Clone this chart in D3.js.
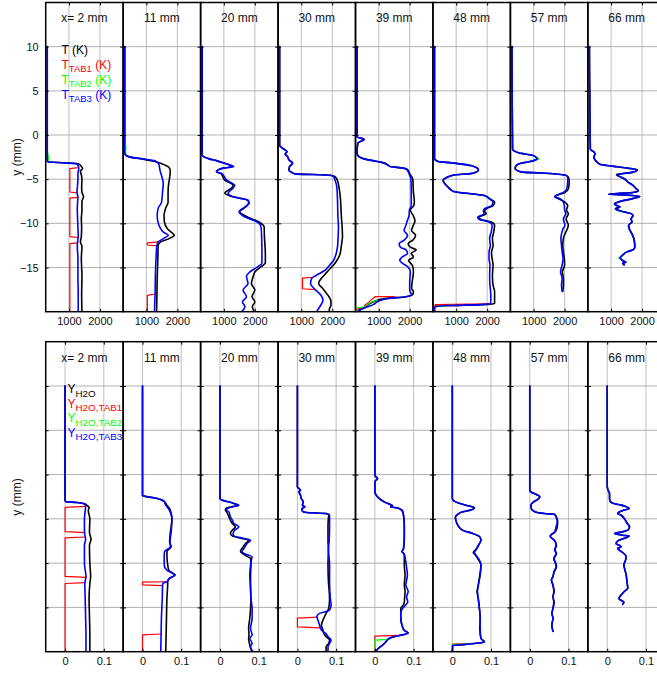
<!DOCTYPE html>
<html><head><meta charset="utf-8">
<script src="https://cdn.jsdelivr.net/npm/d3@7"></script>
<style>body{margin:0;background:#fff} text{font-family:"Liberation Sans",Arial,Helvetica,sans-serif}</style>
</head><body><script>
// ---------------- DATA ----------------
const panelTitles = ["x= 2 mm","11 mm","20 mm","30 mm","39 mm","48 mm","57 mm","66 mm"];
const yTickValues = [-15,-10,-5,0,5,10];
const yDomain = [-20,15];
const tDomain = [250,2750];
const tTicks = [1000,2000];
const hDomain = [-0.05,0.15];
const hTicks = [0,0.1];

// Temperature profiles: rows [y (mm), T (K), T_TAB3 (K)]
const T_02 = [[10,300,300],[-2.9,300,300],[-3.05,330,330],[-3.15,900,850],[-3.25,1300,1250],[-3.5,1390,1300],[-3.8,1440,1320],[-4.1,1370,1300],[-4.5,1400,1290],[-5,1420,1290],[-6,1410,1270],[-6.5,1420,1260],[-7,1470,1290],[-7.5,1420,1280],[-8.5,1420,1270],[-9.5,1400,1280],[-10.5,1410,1290],[-11.5,1400,1300],[-12.1,1370,1280],[-12.6,1420,1270],[-14,1400,1290],[-16,1420,1290],[-18,1410,1300],[-20,1420,1300]];
const T_11 = [[10,300,300],[-2.0,300,300],[-2.3,340,340],[-2.5,480,480],[-2.7,850,880],[-2.9,1150,1260],[-3.1,1380,1350],[-3.4,1600,1410],[-3.6,1710,1420],[-4.0,1770,1440],[-5,1745,1520],[-5.5,1720,1545],[-6.5,1700,1520],[-7.6,1700,1490],[-8.3,1620,1380],[-9.1,1570,1350],[-9.8,1580,1370],[-10.6,1680,1460],[-11.0,1800,1550],[-11.35,1900,1710],[-11.7,1750,1560],[-12.1,1460,1380],[-12.5,1380,1340],[-14,1370,1310],[-16,1350,1290],[-18,1340,1280],[-20,1330,1260]];
const T_20 = [[10,300,300],[-2.3,300,300],[-2.5,370,370],[-2.7,530,530],[-2.9,760,760],[-3.15,980,980],[-3.35,1150,1150],[-3.55,1310,1320],[-3.75,980,980],[-3.95,810,820],[-4.15,760,763],[-4.35,900,930],[-5.1,1030,1090],[-5.7,1300,1350],[-6.0,1250,1300],[-6.6,1030,1140],[-7.0,1300,1300],[-7.4,1780,1790],[-7.7,1800,1820],[-8.1,1720,1700],[-8.7,1510,1490],[-9.2,1720,1640],[-9.9,2160,2100],[-10.4,2300,2200],[-11.5,2310,2220],[-13.4,2340,2230],[-14.5,2340,2230],[-14.9,2200,2100],[-15.5,2000,1840],[-16.0,1950,1730],[-16.8,1890,1780],[-17.55,2000,1620],[-18.3,1910,1730],[-18.9,2000,1600],[-19.4,1920,1680],[-20,1980,1570]];
const T_30 = [[10,300,300],[-1.2,300,300],[-1.5,400,400],[-1.9,540,540],[-2.15,480,480],[-2.45,560,560],[-2.8,600,600],[-3.2,720,720],[-3.6,620,620],[-4.0,600,600],[-4.2,680,680],[-4.4,800,800],[-4.55,1950,1900],[-4.7,2080,2040],[-5.0,2150,2080],[-6,2220,2150],[-7.5,2270,2170],[-9,2290,2180],[-10.5,2320,2200],[-11.5,2330,2190],[-12.6,2290,2170],[-13.5,2250,2120],[-14.2,2150,2040],[-14.8,2020,1900],[-15.3,1880,1770],[-15.9,1730,1480],[-16.2,1650,1340],[-16.8,1560,1300],[-17.4,1700,1420],[-18.1,1850,1630],[-18.7,1950,1700],[-19.2,1960,1640],[-19.8,1900,1530],[-20,1920,1500]];
const T_39 = [[10,300,300],[-0.2,300,300],[-0.5,530,530],[-0.9,330,330],[-1.3,310,310],[-2.1,300,300],[-2.45,360,360],[-2.7,520,520],[-2.9,800,800],[-3.1,1100,1100],[-3.4,1300,1300],[-3.55,1350,1350],[-3.75,1800,1780],[-3.9,1930,1900],[-4.4,2000,1980],[-5,2100,2040],[-6.5,2120,2050],[-7.5,2150,2050],[-8.0,2130,2050],[-8.5,2020,1990],[-9.1,2110,1980],[-9.7,2170,1920],[-10.2,2120,1880],[-10.8,2060,1820],[-11.35,2190,1930],[-11.9,2100,1820],[-12.3,1950,1660],[-12.7,2020,1700],[-13.0,2210,1880],[-13.4,2050,1930],[-13.8,2120,1760],[-14.2,1960,1680],[-14.5,2030,1760],[-14.9,2100,1930],[-15.5,2120,2020],[-16.6,2080,2000],[-17.4,2060,2000],[-17.7,2120,2010],[-18.05,2100,2060],[-18.3,1880,1880],[-18.5,1210,1320],[-18.8,880,1000],[-19.2,660,820],[-19.5,540,600],[-19.75,380,430],[-20,320,330]];
const T_48 = [[10,300,300],[-2.7,300,300],[-3.0,420,420],[-3.15,860,860],[-3.3,1190,1190],[-3.45,1470,1470],[-3.65,1630,1630],[-3.95,1720,1720],[-4.2,1640,1640],[-4.4,1410,1410],[-4.5,970,970],[-4.8,690,690],[-5.15,580,580],[-5.5,630,630],[-5.9,740,740],[-6.2,830,830],[-6.4,920,920],[-6.55,1190,1190],[-6.7,1630,1630],[-6.85,1910,1900],[-7.2,2080,2060],[-7.6,2240,2190],[-8.0,2190,2140],[-8.35,1970,1910],[-8.6,1910,1880],[-8.9,1970,1900],[-9.3,1740,1690],[-9.55,1800,1740],[-9.85,2130,2060],[-10.2,2240,2160],[-11,2210,2130],[-11.7,2170,2080],[-12.5,2190,2100],[-13.3,2140,2060],[-14,2160,2060],[-14.7,2190,2090],[-16,2170,2080],[-17,2190,2090],[-17.7,2240,2110],[-18.5,2240,2120],[-19.06,2240,2110],[-19.2,1860,1800],[-19.3,750,700],[-19.45,300,300],[-20,300,300]];
const T_57 = [[10,300,300],[-1.6,320,320],[-1.8,370,370],[-2.0,510,510],[-2.15,730,730],[-2.3,960,960],[-2.5,1070,1070],[-2.7,1120,1120],[-2.9,1000,1000],[-3.1,730,730],[-3.3,500,500],[-3.5,430,430],[-3.8,400,400],[-4.0,460,460],[-4.2,630,630],[-4.3,1230,1230],[-4.45,1790,1790],[-4.6,2070,2050],[-4.8,2120,2100],[-5.3,2150,2100],[-6.1,2120,2070],[-6.5,2010,1960],[-6.65,1900,1850],[-6.85,1730,1730],[-7.0,1680,1680],[-7.2,1790,1850],[-7.6,2010,1960],[-8.0,2100,1990],[-8.5,2060,2000],[-8.9,2120,2040],[-9.5,2050,1960],[-10.2,2120,2010],[-10.7,2080,1940],[-11.2,2010,1900],[-11.7,1960,1880],[-12.5,1940,1900],[-13.2,1960,1920],[-14,1990,1950],[-14.7,2000,1920],[-15.5,1930,1870],[-16.2,1960,1920],[-17,1960,1900],[-17.7,1940,1920]];
const T_66 = [[10,300,300],[-1.6,330,330],[-1.9,440,440],[-2.15,480,480],[-2.5,440,440],[-2.9,500,500],[-3.3,640,640],[-3.45,870,870],[-3.6,1200,1200],[-3.75,1530,1530],[-3.95,1850,1840],[-4.2,1710,1700],[-4.4,1310,1310],[-4.5,1170,1200],[-4.65,1250,1250],[-4.95,1430,1420],[-5.3,1540,1530],[-5.7,1710,1700],[-6.1,1820,1810],[-6.3,1880,1870],[-6.5,1700,1700],[-6.62,1200,1200],[-6.7,920,920],[-6.8,1500,1500],[-6.95,1930,1920],[-7.2,1700,1700],[-7.5,1310,1310],[-7.8,1110,1110],[-8.0,1200,1200],[-8.15,1290,1290],[-8.35,1140,1140],[-8.55,1250,1250],[-8.7,1420,1420],[-8.9,1650,1640],[-9.1,1710,1700],[-9.5,1650,1640],[-9.85,1680,1670],[-10.2,1570,1560],[-10.7,1600,1590],[-11.2,1680,1670],[-11.9,1750,1740],[-12.7,1770,1760],[-13.0,1700,1700],[-13.2,1530,1530],[-13.6,1370,1370],[-13.9,1290,1290],[-14.2,1370,1370],[-14.4,1480,1480],[-14.5,1370,1370],[-14.7,1420,1420]];

// T_TAB1 and T_TAB2 where they depart from T_TAB3: polylines of [y, T]
const T1_02 = [[[-3.7,1310],[-3.8,1030],[-6.45,1030],[-6.55,1270]],[[-7.05,1290],[-7.15,1030],[-11.5,1030],[-11.6,1300]],[[-12.2,1280],[-12.3,1030],[-20,1030]]];
const T1_11 = [[[-12.1,1380],[-12.2,1030],[-12.45,1030],[-12.55,1340]],[[-18.0,1280],[-18.15,1030],[-20,1030]]];
const T1_20 = [];
const T1_30 = [[[-16.1,1380],[-16.2,1040],[-17.4,1040],[-17.5,1430]]];
const T1_39 = [[[-18.3,1500],[-18.3,880],[-18.6,780],[-19.0,650],[-19.3,540]],[[-19.6,450],[-19.7,290],[-19.9,330]]];
const T1_48 = [[[-19.1,2100],[-19.2,320],[-19.28,1200],[-19.35,300],[-19.5,300]]];
const T1_57 = [];
const T1_66 = [];
const T2_02 = [[[-1.8,300],[-2.5,340],[-3.0,330]]];
const T2_11 = [[[-0.8,300],[-1.3,340],[-2.0,330],[-2.3,345]]];
const T2_20 = [];
const T2_30 = [];
const T2_39 = [[[-18.7,950],[-18.9,760],[-19.2,640],[-19.45,560],[-19.55,300],[-19.8,330]]];
const T2_48 = [[[-19.25,900],[-19.4,350]]];
const T2_57 = [[[-2.55,1090],[-2.7,1180],[-2.85,1050]]];
const T2_66 = [[[-8.4,1150],[-8.55,1210],[-8.7,1400]],[[-13.8,1310],[-13.95,1240],[-14.1,1330]]];

// Water mass fraction profiles: rows [y (mm), Y_H2O, Y_H2O,TAB3]
const Y_02 = [[10,0,0],[-2.9,0,0],[-3.05,0.002,0.002],[-3.15,0.03,0.03],[-3.3,0.05,0.049],[-3.5,0.057,0.053],[-3.7,0.062,0.053],[-4.1,0.06,0.052],[-5,0.064,0.050],[-6.5,0.063,0.050],[-7.3,0.067,0.053],[-8,0.063,0.050],[-10,0.064,0.050],[-11.5,0.066,0.054],[-12.3,0.064,0.051],[-14,0.062,0.052],[-16,0.063,0.053],[-18,0.064,0.054],[-20,0.064,0.054]];
const Y_11 = [[10,0,0],[-2.4,0,0],[-2.5,0.012,0.012],[-2.7,0.038,0.038],[-3.0,0.055,0.055],[-3.45,0.063,0.060],[-3.85,0.070,0.067],[-4.4,0.074,0.073],[-5,0.076,0.076],[-6.5,0.072,0.074],[-7.6,0.070,0.071],[-8.15,0.074,0.072],[-8.7,0.063,0.057],[-9.1,0.063,0.056],[-10.2,0.065,0.056],[-10.8,0.068,0.063],[-11.2,0.080,0.080],[-11.35,0.084,0.084],[-11.7,0.070,0.070],[-12.1,0.065,0.063],[-12.3,0.065,0.052],[-14,0.063,0.051],[-16,0.062,0.049],[-18,0.061,0.048],[-20,0.060,0.047]];
const Y_20 = [[10,0,0],[-2.7,0,0],[-2.9,0.006,0.006],[-3.08,0.023,0.023],[-3.27,0.036,0.036],[-3.46,0.047,0.049],[-3.65,0.030,0.032],[-3.83,0.015,0.019],[-4.02,0.014,0.017],[-4.21,0.017,0.023],[-4.77,0.023,0.027],[-5.15,0.027,0.032],[-5.53,0.032,0.036],[-5.9,0.040,0.049],[-6.28,0.032,0.038],[-6.65,0.027,0.034],[-6.92,0.032,0.036],[-7.22,0.057,0.062],[-7.41,0.074,0.079],[-7.78,0.066,0.070],[-8.35,0.057,0.062],[-8.65,0.053,0.057],[-8.91,0.058,0.062],[-9.29,0.072,0.083],[-9.47,0.079,0.082],[-10.23,0.080,0.079],[-11.35,0.079,0.077],[-12.86,0.079,0.079],[-13.98,0.080,0.080],[-15.11,0.079,0.083],[-16.24,0.077,0.083],[-17.37,0.074,0.079],[-18.12,0.075,0.083],[-18.5,0.074,0.077],[-19.06,0.076,0.083],[-19.44,0.078,0.079],[-20,0.083,0.085]];
const Y_30 = [[10,0,0],[-1.4,0,0],[-1.58,0.004,0.004],[-1.77,0.008,0.008],[-1.95,0.004,0.004],[-2.33,0.008,0.008],[-2.7,0.010,0.010],[-3.08,0.015,0.015],[-3.46,0.013,0.013],[-3.65,0.019,0.019],[-3.83,0.012,0.012],[-4.14,0.013,0.013],[-4.29,0.023,0.023],[-4.4,0.074,0.074],[-4.59,0.081,0.083],[-4.96,0.080,0.083],[-5.71,0.079,0.083],[-7.5,0.079,0.082],[-8.35,0.080,0.080],[-10.2,0.079,0.083],[-12,0.080,0.083],[-13.98,0.083,0.085],[-14.74,0.082,0.087],[-15.3,0.079,0.083],[-15.68,0.074,0.057],[-16.05,0.070,0.050],[-16.43,0.066,0.053],[-16.99,0.062,0.057],[-17.56,0.066,0.062],[-17.93,0.068,0.073],[-18.3,0.074,0.079],[-18.68,0.083,0.087],[-19.06,0.081,0.083],[-19.44,0.074,0.079],[-20,0.074,0.079]];
const Y_39 = [[10,0,0],[-0.1,0,0],[-0.45,0.007,0.007],[-0.8,0,0],[-2.0,0,0],[-2.3,0.003,0.003],[-2.7,0.011,0.011],[-3.08,0.024,0.024],[-3.4,0.041,0.041],[-3.5,0.045,0.046],[-3.65,0.041,0.041],[-3.76,0.058,0.058],[-3.9,0.065,0.065],[-4.0,0.070,0.070],[-4.6,0.074,0.074],[-5.7,0.076,0.076],[-7.2,0.076,0.076],[-8.35,0.074,0.074],[-8.7,0.070,0.070],[-9.0,0.076,0.076],[-10.2,0.076,0.081],[-11.35,0.078,0.084],[-12.5,0.076,0.080],[-13.2,0.078,0.086],[-13.8,0.077,0.082],[-14.4,0.076,0.085],[-14.7,0.074,0.080],[-15.1,0.067,0.072],[-15.5,0.067,0.067],[-16.2,0.067,0.067],[-17,0.070,0.070],[-17.6,0.076,0.076],[-17.9,0.086,0.086],[-18.1,0.071,0.071],[-18.3,0.050,0.050],[-18.5,0.037,0.037],[-18.9,0.028,0.028],[-19.25,0.020,0.020],[-19.55,0.011,0.011],[-19.8,0.005,0.005],[-20,0.003,0.003]];
const Y_48 = [[10,0,0],[-2.7,0,0],[-3.0,0.005,0.005],[-3.3,0.022,0.022],[-3.55,0.044,0.044],[-3.75,0.057,0.057],[-4.0,0.048,0.048],[-4.2,0.027,0.027],[-4.5,0.014,0.014],[-4.8,0.008,0.008],[-5.15,0.009,0.009],[-5.7,0.014,0.014],[-6.3,0.027,0.027],[-6.65,0.053,0.053],[-7.0,0.070,0.070],[-7.4,0.074,0.074],[-7.8,0.070,0.070],[-8.15,0.065,0.066],[-8.5,0.060,0.061],[-8.8,0.054,0.057],[-9.1,0.060,0.061],[-9.65,0.068,0.070],[-10.2,0.074,0.074],[-11.35,0.071,0.072],[-12.5,0.067,0.067],[-13.2,0.064,0.065],[-14,0.067,0.067],[-15.1,0.070,0.070],[-16.2,0.072,0.072],[-17.4,0.071,0.072],[-18.5,0.074,0.074],[-18.9,0.083,0.083],[-19.05,0.062,0.062],[-19.2,0.027,0.027],[-19.3,0.001,0.001],[-20,0,0]];
const Y_57 = [[10,0,0],[-1.75,0,0],[-2.0,0.004,0.004],[-2.25,0.017,0.017],[-2.5,0.026,0.026],[-2.8,0.021,0.021],[-3.1,0.009,0.009],[-3.45,0.003,0.003],[-3.85,0.004,0.004],[-4.2,0.013,0.013],[-4.4,0.038,0.038],[-4.5,0.064,0.064],[-4.8,0.069,0.068],[-5.3,0.072,0.071],[-5.9,0.071,0.068],[-6.5,0.065,0.064],[-6.85,0.054,0.054],[-7.0,0.053,0.053],[-7.4,0.063,0.063],[-8.0,0.069,0.068],[-8.5,0.065,0.064],[-8.9,0.069,0.068],[-9.5,0.063,0.062],[-10.0,0.067,0.066],[-10.4,0.069,0.068],[-11,0.063,0.062],[-11.5,0.060,0.060],[-11.9,0.056,0.056],[-12.5,0.060,0.060],[-13.2,0.063,0.062],[-13.8,0.060,0.060],[-14.4,0.063,0.062],[-15.1,0.060,0.060],[-15.7,0.057,0.057],[-16.2,0.060,0.060],[-17,0.057,0.057],[-17.7,0.060,0.060]];
const Y_66 = [[10,0,0],[-1.2,0,0],[-1.75,0.002,0.002],[-2.15,0.006,0.006],[-2.7,0.006,0.006],[-3.1,0.009,0.009],[-3.3,0.019,0.019],[-3.45,0.036,0.036],[-3.65,0.050,0.050],[-3.85,0.057,0.057],[-4.0,0.044,0.044],[-4.2,0.032,0.032],[-4.4,0.027,0.027],[-4.6,0.036,0.036],[-4.95,0.044,0.044],[-5.5,0.052,0.051],[-5.9,0.058,0.057],[-6.2,0.055,0.055],[-6.5,0.036,0.036],[-6.65,0.019,0.019],[-6.85,0.040,0.040],[-6.95,0.057,0.057],[-7.2,0.044,0.044],[-7.5,0.027,0.027],[-7.8,0.023,0.023],[-8.0,0.032,0.032],[-8.15,0.036,0.036],[-8.35,0.027,0.027],[-8.55,0.032,0.032],[-8.8,0.040,0.040],[-9.3,0.049,0.049],[-9.85,0.046,0.046],[-10.2,0.043,0.043],[-10.8,0.046,0.046],[-11.35,0.049,0.049],[-12.1,0.051,0.051],[-12.85,0.053,0.053],[-13.2,0.044,0.044],[-13.6,0.036,0.036],[-14.0,0.030,0.030],[-14.2,0.036,0.036],[-14.4,0.043,0.043],[-14.65,0.040,0.040]];

const Y1_02 = [[[-3.6,0.053],[-3.7,0],[-6.45,0],[-6.55,0.052]],[[-7.05,0.053],[-7.15,0],[-11.5,0],[-11.6,0.054]],[[-12.2,0.052],[-12.3,0],[-20,0]]];
const Y1_11 = [[[-12.1,0.06],[-12.15,0],[-12.45,0],[-12.55,0.052]],[[-18.0,0.049],[-18.1,0],[-20,0]]];
const Y1_20 = [];
const Y1_30 = [[[-16.1,0.052],[-16.2,0],[-17.2,0],[-17.3,0.058]]];
const Y1_39 = [[[-18.15,0.06],[-18.25,0],[-20,0]]];
const Y1_48 = [[[-19.05,0.062],[-19.15,0],[-19.3,0]]];
const Y1_57 = [];
const Y1_66 = [];
const Y2_02 = [];
const Y2_11 = [];
const Y2_20 = [];
const Y2_30 = [];
const Y2_39 = [[[-18.6,0.036],[-18.7,0],[-19.7,0],[-19.8,0.005]]];
const Y2_48 = [[[-19.1,0.05],[-19.2,0]]];
const Y2_57 = [];
const Y2_66 = [[[-13.9,0.031],[-14.0,0.028],[-14.1,0.033]]];

const T_all = [T_02,T_11,T_20,T_30,T_39,T_48,T_57,T_66];
const T1_all = [T1_02,T1_11,T1_20,T1_30,T1_39,T1_48,T1_57,T1_66];
const T2_all = [T2_02,T2_11,T2_20,T2_30,T2_39,T2_48,T2_57,T2_66];
const Y_all = [Y_02,Y_11,Y_20,Y_30,Y_39,Y_48,Y_57,Y_66];
const Y1_all = [Y1_02,Y1_11,Y1_20,Y1_30,Y1_39,Y1_48,Y1_57,Y1_66];
const Y2_all = [Y2_02,Y2_11,Y2_20,Y2_30,Y2_39,Y2_48,Y2_57,Y2_66];

const legendT = [["T","","(K)"],["T","TAB1","(K)"],["T","TAB2","(K)"],["T","TAB3","(K)"]];
const legendY = [["Y","H2O",""],["Y","H2O,TAB1",""],["Y","H2O,TAB2",""],["Y","H2O,TAB3",""]];

// ---------------- STYLE / LAYOUT ----------------
const COLORS = ["#000000","#ff0000","#00ff00","#0000ff"];
const W = 657, H = 673, L0 = 45.7, PW = 77.45;
const svg = d3.select("body").append("svg").attr("width",W).attr("height",H).style("display","block");
svg.append("rect").attr("width",W).attr("height",H).attr("fill","#fff");
const defs = svg.append("defs");

const rowsCfg = [
  {top:2.5, bottom:311.7, dom:tDomain, ticks:tTicks, main:T_all, tab1:T1_all, tab2:T2_all,
   fmt:d3.format("d"), titleY:21.5, labelCY:157, legend:legendT, legX:61.5, legY:[54,69,84,99], subSize:9.5, subDy:3, tailSpace:true},
  {top:341.7, bottom:651.7, dom:hDomain, ticks:hTicks, main:Y_all, tab1:Y1_all, tab2:Y2_all,
   fmt:d3.format("~g"), titleY:362, labelCY:497, legend:legendY, legX:67.5, legY:[393,407.5,422,436.5], subSize:9.8, subDy:3.5, tailSpace:false}
];

rowsCfg.forEach((R, ri) => {
  const y = d3.scaleLinear().domain(yDomain).range([R.bottom, R.top]);
  for (let i = 0; i < 8; i++) {
    const x0 = L0 + i*PW, x1 = x0 + PW;
    const x = d3.scaleLinear().domain(R.dom).range([x0, x1]);
    const cid = `clip${ri}_${i}`;
    defs.append("clipPath").attr("id", cid).append("rect")
      .attr("x", x0).attr("y", R.top).attr("width", PW).attr("height", R.bottom - R.top);
    const g = svg.append("g");

    // grid
    g.selectAll("line.vg").data(R.ticks).join("line").attr("class","vg")
      .attr("x1", d => x(d)).attr("x2", d => x(d)).attr("y1", R.top).attr("y2", R.bottom)
      .attr("stroke", "#c4c4c4").attr("stroke-width", 1.1);
    g.selectAll("line.hg").data(yTickValues).join("line").attr("class","hg")
      .attr("x1", x0).attr("x2", x1).attr("y1", d => y(d)).attr("y2", d => y(d))
      .attr("stroke", "#a9a9a9").attr("stroke-width", 0.9);

    // data
    const lg = g.append("g").attr("clip-path", `url(#${cid})`).attr("fill","none")
      .attr("stroke-linejoin","round").attr("stroke-linecap","round");
    const smooth = d3.line().x(d => x(d[1])).y(d => y(d[0])).curve(d3.curveMonotoneY);
    const straight = d3.line().x(d => x(d[1])).y(d => y(d[0]));
    const rows = R.main[i];
    lg.append("path").attr("d", smooth(rows.map(r => [r[0], r[1]])))
      .attr("stroke", COLORS[0]).attr("stroke-width", 1.6);
    R.tab1[i].forEach(seg => lg.append("path").attr("d", straight(seg))
      .attr("stroke", COLORS[1]).attr("stroke-width", 1.2));
    R.tab2[i].forEach(seg => lg.append("path").attr("d", straight(seg))
      .attr("stroke", COLORS[2]).attr("stroke-width", 1.2));
    lg.append("path").attr("d", smooth(rows.map(r => [r[0], r[2]])))
      .attr("stroke", COLORS[3]).attr("stroke-width", 1.6);

    // axes
    const styleAxis = a => {
      a.select(".domain").remove();
      a.selectAll(".tick line").attr("stroke","#000").attr("stroke-width",1);
      a.selectAll("text").attr("font-size", 11).attr("fill","#111")
        .attr("font-family", '"Liberation Sans",Arial,Helvetica,sans-serif');
    };
    g.append("g").attr("transform", `translate(0,${R.bottom})`)
      .call(d3.axisBottom(x).tickValues(R.ticks).tickSize(-3).tickPadding(6).tickFormat(R.fmt)).call(styleAxis);
    g.append("g").attr("transform", `translate(0,${R.top})`)
      .call(d3.axisTop(x).tickValues(R.ticks).tickSize(-3).tickFormat("")).call(styleAxis);
    g.append("g").attr("transform", `translate(${x0},0)`)
      .call(d3.axisLeft(y).tickValues(yTickValues).tickSize(-3).tickPadding(7)
        .tickFormat((ri === 0 && i === 0) ? d3.format("d") : "")).call(styleAxis);
    g.append("g").attr("transform", `translate(${x1},0)`)
      .call(d3.axisRight(y).tickValues(yTickValues).tickSize(-3).tickFormat("")).call(styleAxis);

    // box
    g.append("rect").attr("x", x0).attr("y", R.top).attr("width", PW).attr("height", R.bottom - R.top)
      .attr("fill","none").attr("stroke","#000").attr("stroke-width",1.5);

    // title
    g.append("text").attr("x", (x0 + x1)/2).attr("y", R.titleY).attr("text-anchor","middle")
      .attr("font-size", 12).attr("fill","#111").text(panelTitles[i]);

    // legend in first panel
    if (i === 0) {
      const leg = g.append("g").attr("clip-path", `url(#${cid})`);
      R.legend.forEach((L, k) => {
        const t = leg.append("text").attr("x", R.legX).attr("y", R.legY[k])
          .attr("font-size", 12).attr("fill", COLORS[k]);
        t.append("tspan").text(L[0]);
        if (L[1]) t.append("tspan").attr("font-size", R.subSize).attr("dy", R.subDy).text(L[1]);
        if (L[2]) t.append("tspan").attr("dy", L[1] ? -R.subDy : 0).text((R.tailSpace ? " " : "") + L[2]);
      });
    }
  }
  // y label
  svg.append("text").attr("transform", `translate(21,${R.labelCY}) rotate(-90)`)
    .attr("text-anchor","middle").attr("font-size", 12).attr("fill","#111").text("y (mm)");
});
</script></body></html>
